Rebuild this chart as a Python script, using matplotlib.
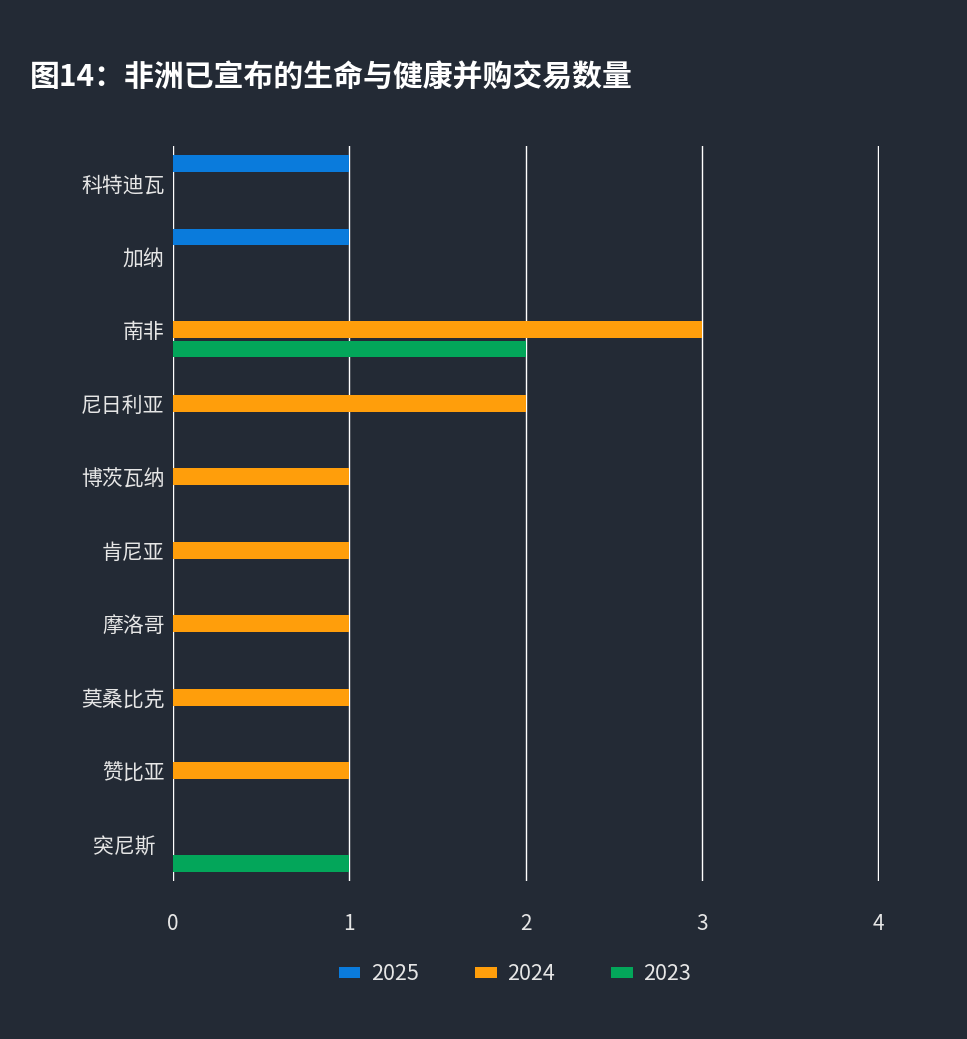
import numpy as np
import matplotlib
matplotlib.use("Agg")
import matplotlib.pyplot as plt
from matplotlib.patches import Patch

plt.rcParams['font.family'] = ['Noto Sans CJK SC', 'DejaVu Sans']

countries = ["科特迪瓦", "加纳", "南非", "尼日利亚", "博茨瓦纳",
             "肯尼亚", "摩洛哥", "莫桑比克", "赞比亚", "突尼斯  "]
deals_2025 = [1, 1, 0, 0, 0, 0, 0, 0, 0, 0]
deals_2024 = [0, 0, 3, 2, 1, 1, 1, 1, 1, 0]
deals_2023 = [0, 0, 2, 0, 0, 0, 0, 0, 0, 1]
years = ["2025", "2024", "2023"]
x_ticks = [0, 1, 2, 3, 4]

bg = "#232a35"
text_c = "#e6e6e6"
colors = ["#0a7bdc", "#ff9e0b", "#03a65a"]


def main():
    fig = plt.figure(figsize=(9.67, 10.39), dpi=100, facecolor=bg)
    ax = fig.add_axes([0.1789, 0.152, 0.7302, 0.7075], facecolor=bg)

    y = np.arange(len(countries))
    offset = 0.262
    h = 0.23
    for k, vals in enumerate([deals_2025, deals_2024, deals_2023]):
        v = np.array(vals, dtype=float)
        ax.barh(y + (k - 1) * offset, v, height=h, color=colors[k],
                zorder=3, linewidth=0)

    ax.set_ylim(len(countries) - 0.5, -0.5)
    ax.set_xlim(0, 4.005)
    ax.set_xticks(x_ticks)
    ax.set_xticklabels([str(t) for t in x_ticks])
    ax.set_yticks(y)
    ax.set_yticklabels(countries)

    # 网格线
    for t in x_ticks:
        ax.axvline(t, color="white", lw=1.0, zorder=2)
    for s in ax.spines.values():
        s.set_visible(False)

    ax.tick_params(axis="both", length=0, colors=text_c, labelsize=15)
    ax.tick_params(axis="x", pad=23)
    ax.tick_params(axis="y", pad=6)
    for lab in ax.get_xticklabels():
        lab.set_fontweight("light")

    fig.text(30 / 967, 1 - 77 / 1039, "图14：非洲已宣布的生命与健康并购交易数量",
             color="white", fontsize=21.5, fontweight="bold",
             ha="left", va="center")

    handles = [Patch(facecolor=c, edgecolor="none") for c in colors]
    fig.legend(handles, years, loc="center",
               bbox_to_anchor=(515 / 967, 1 - 974 / 1039),
               ncol=3, frameon=False, fontsize=15.5,
               handlelength=1.0, handleheight=0.45,
               handletextpad=0.5, columnspacing=2.6,
               labelcolor=text_c)

    fig.savefig("out.png", dpi=100, facecolor=bg)


if __name__ == "__main__":
    main()
